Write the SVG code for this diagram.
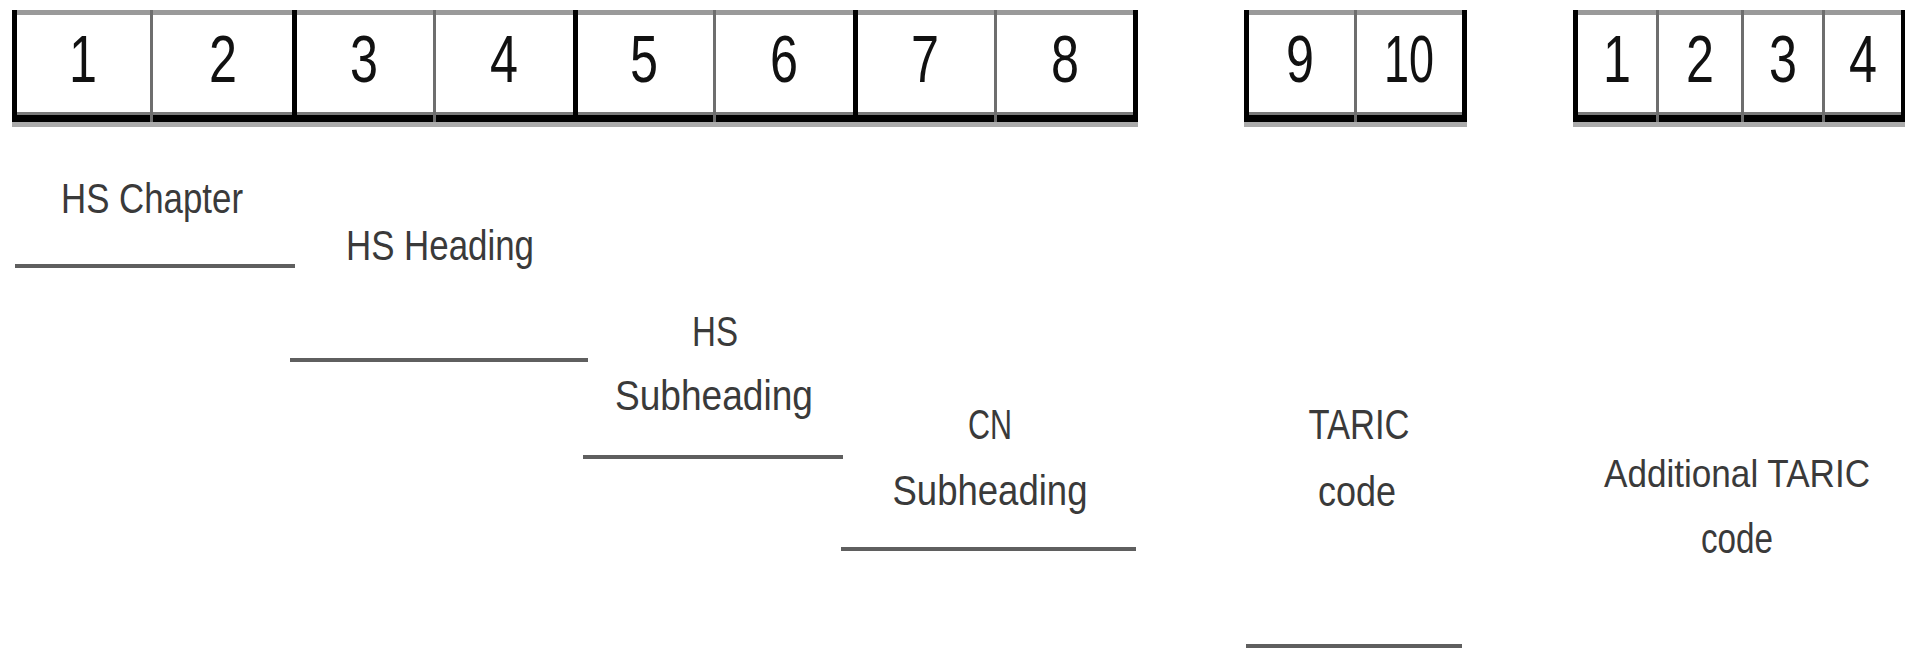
<svg xmlns="http://www.w3.org/2000/svg" width="1905" height="650" viewBox="0 0 1905 650">
<style>
.top{fill:#9a9a9a}
.bt1{fill:#7a7a7a}
.bt2{fill:#000}
.bt3{fill:#ababab}
.edge{fill:#000}
.thin{fill:#6e6e6e}
.dig{font-family:"Liberation Sans",Arial,sans-serif;font-size:66px;fill:#111;text-anchor:middle}
.lbl{font-family:"Liberation Sans",Arial,sans-serif;font-size:42px;fill:#3a3a3a;text-anchor:middle}
.rule{stroke:#5f5f5f;stroke-width:4;fill:none}
</style>
<rect width="1905" height="650" fill="#fff"/>

<g id="box-cn">
  <rect x="14" y="10" width="1122" height="5" class="top"/>
  <rect x="14" y="112" width="1122" height="3" class="bt1"/>
  <rect x="12" y="115" width="1126" height="7" class="bt2"/>
  <rect x="12" y="122" width="1126" height="5" class="bt3"/>
  <rect x="12" y="10" width="5" height="112" class="edge"/>
  <rect x="150" y="10" width="3" height="112" class="thin"/>
  <rect x="292" y="10" width="5" height="112" class="edge"/>
  <rect x="433" y="10" width="3" height="112" class="thin"/>
  <rect x="573" y="10" width="5" height="112" class="edge"/>
  <rect x="713" y="10" width="3" height="112" class="thin"/>
  <rect x="853" y="10" width="5" height="112" class="edge"/>
  <rect x="994" y="10" width="3" height="112" class="thin"/>
  <rect x="1133" y="10" width="5" height="112" class="edge"/>
  <text x="83" y="82" class="dig" textLength="28" lengthAdjust="spacingAndGlyphs">1</text>
  <text x="223" y="82" class="dig" textLength="28" lengthAdjust="spacingAndGlyphs">2</text>
  <text x="364" y="82" class="dig" textLength="28" lengthAdjust="spacingAndGlyphs">3</text>
  <text x="504" y="82" class="dig" textLength="28" lengthAdjust="spacingAndGlyphs">4</text>
  <text x="644" y="82" class="dig" textLength="28" lengthAdjust="spacingAndGlyphs">5</text>
  <text x="784" y="82" class="dig" textLength="28" lengthAdjust="spacingAndGlyphs">6</text>
  <text x="925" y="82" class="dig" textLength="28" lengthAdjust="spacingAndGlyphs">7</text>
  <text x="1065" y="82" class="dig" textLength="28" lengthAdjust="spacingAndGlyphs">8</text>
</g>

<g id="box-taric">
  <rect x="1246" y="10" width="219" height="5" class="top"/>
  <rect x="1246" y="112" width="219" height="3" class="bt1"/>
  <rect x="1244" y="115" width="223" height="7" class="bt2"/>
  <rect x="1244" y="122" width="223" height="5" class="bt3"/>
  <rect x="1244" y="10" width="5" height="112" class="edge"/>
  <rect x="1354" y="10" width="3" height="112" class="thin"/>
  <rect x="1462" y="10" width="5" height="112" class="edge"/>
  <text x="1300" y="82" class="dig" textLength="28" lengthAdjust="spacingAndGlyphs">9</text>
  <text x="1409" y="82" class="dig" textLength="50" lengthAdjust="spacingAndGlyphs">10</text>
</g>

<g id="box-additional">
  <rect x="1575" y="10" width="330" height="5" class="top"/>
  <rect x="1575" y="112" width="330" height="3" class="bt1"/>
  <rect x="1573" y="115" width="332" height="7" class="bt2"/>
  <rect x="1573" y="122" width="332" height="5" class="bt3"/>
  <rect x="1573" y="10" width="5" height="112" class="edge"/>
  <rect x="1656" y="10" width="3" height="112" class="thin"/>
  <rect x="1741" y="10" width="3" height="112" class="thin"/>
  <rect x="1822" y="10" width="3" height="112" class="thin"/>
  <rect x="1901" y="10" width="4" height="112" class="edge"/>
  <text x="1617" y="82" class="dig" textLength="28" lengthAdjust="spacingAndGlyphs">1</text>
  <text x="1700" y="82" class="dig" textLength="28" lengthAdjust="spacingAndGlyphs">2</text>
  <text x="1783" y="82" class="dig" textLength="28" lengthAdjust="spacingAndGlyphs">3</text>
  <text x="1863" y="82" class="dig" textLength="28" lengthAdjust="spacingAndGlyphs">4</text>
</g>

<g id="label-hs-chapter"><text x="152" y="213" class="lbl" textLength="182" lengthAdjust="spacingAndGlyphs">HS Chapter</text></g>
<g id="label-hs-heading"><text x="440" y="260" class="lbl" textLength="188" lengthAdjust="spacingAndGlyphs">HS Heading</text></g>
<g id="label-hs-subheading">
  <text x="715" y="346" class="lbl" textLength="46" lengthAdjust="spacingAndGlyphs">HS</text>
  <text x="714" y="410" class="lbl" textLength="198" lengthAdjust="spacingAndGlyphs">Subheading</text>
</g>
<g id="label-cn-subheading">
  <text x="990" y="439" class="lbl" textLength="44" lengthAdjust="spacingAndGlyphs">CN</text>
  <text x="990" y="505" class="lbl" textLength="195" lengthAdjust="spacingAndGlyphs">Subheading</text>
</g>
<g id="label-taric-code">
  <text x="1359" y="439" class="lbl" textLength="101" lengthAdjust="spacingAndGlyphs">TARIC</text>
  <text x="1357" y="506" class="lbl" textLength="78" lengthAdjust="spacingAndGlyphs">code</text>
</g>
<g id="label-additional-taric-code">
  <text x="1737" y="487" class="lbl" style="font-size:39px" textLength="266" lengthAdjust="spacingAndGlyphs">Additional TARIC</text>
  <text x="1737" y="553" class="lbl" textLength="72" lengthAdjust="spacingAndGlyphs">code</text>
</g>

<g id="connectors">
  <line x1="15" y1="266" x2="295" y2="266" class="rule"/>
  <line x1="290" y1="360" x2="588" y2="360" class="rule"/>
  <line x1="583" y1="457" x2="843" y2="457" class="rule"/>
  <line x1="841" y1="549" x2="1136" y2="549" class="rule"/>
  <line x1="1246" y1="646" x2="1462" y2="646" class="rule"/>
</g>
</svg>
